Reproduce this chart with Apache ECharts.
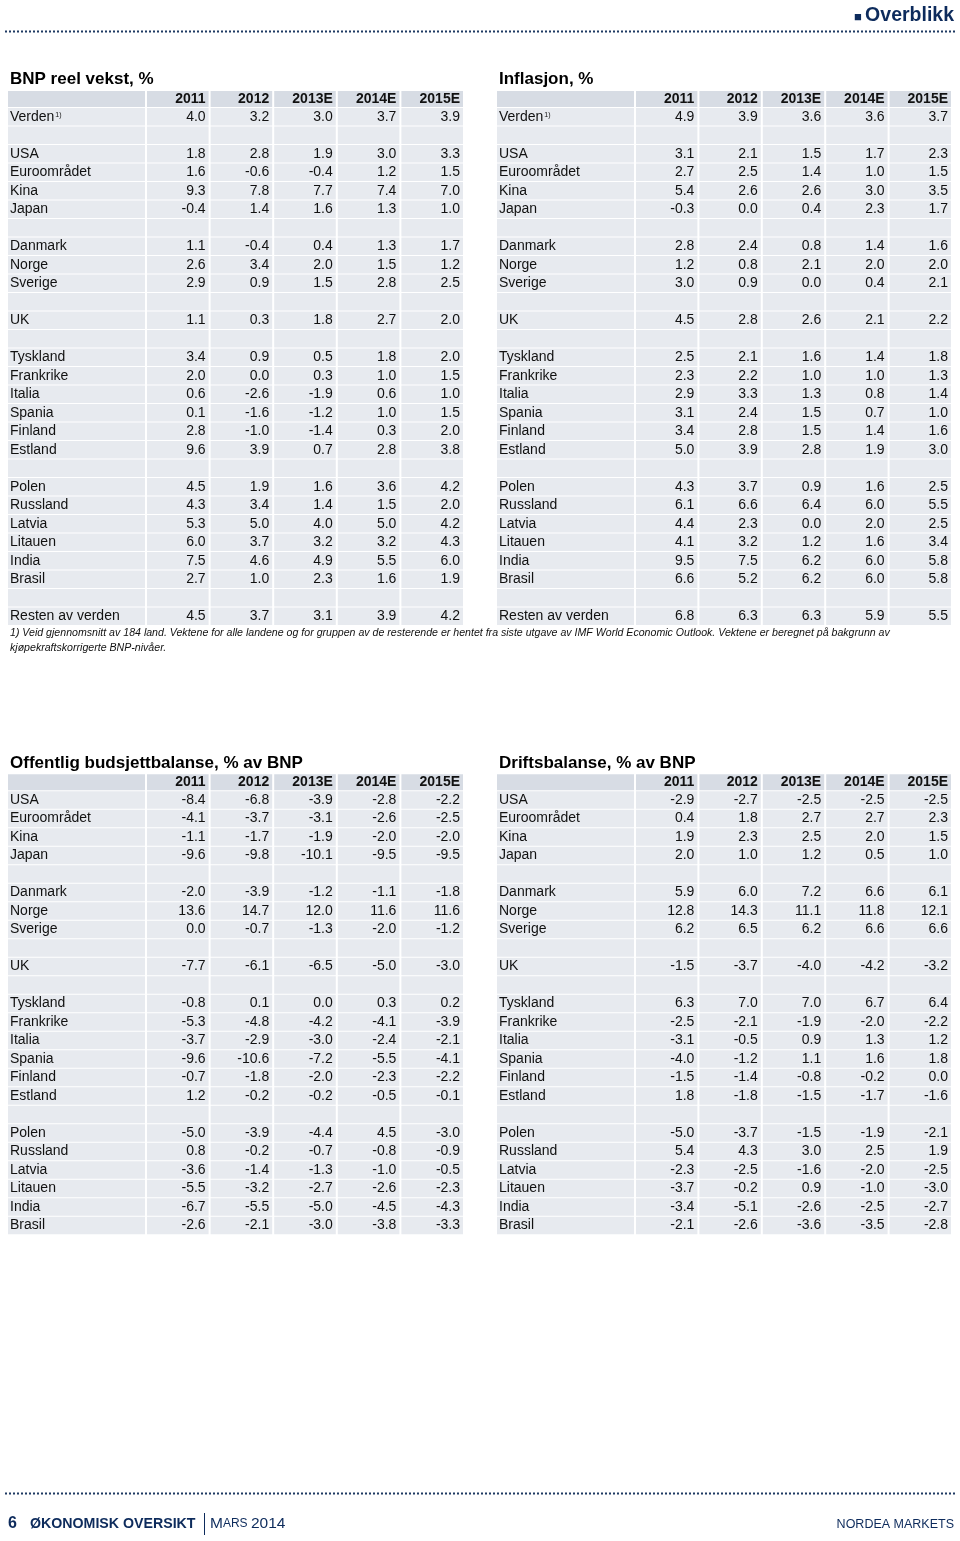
<!DOCTYPE html>
<html><head><meta charset="utf-8">
<script src="https://cdn.jsdelivr.net/npm/echarts/dist/echarts.min.js"></script>
<style>html,body{margin:0;padding:0;background:#fff}#c{width:960px;height:1541px}</style>
</head><body><div id="c"></div>
<script>
const years = ['2011', '2012', '2013E', '2014E', '2015E'];

const topRows = ['Verden', '', 'USA', 'Euroområdet', 'Kina', 'Japan', '', 'Danmark', 'Norge', 'Sverige', '', 'UK', '',
  'Tyskland', 'Frankrike', 'Italia', 'Spania', 'Finland', 'Estland', '', 'Polen', 'Russland', 'Latvia', 'Litauen',
  'India', 'Brasil', '', 'Resten av verden'];

const bottomRows = ['USA', 'Euroområdet', 'Kina', 'Japan', '', 'Danmark', 'Norge', 'Sverige', '', 'UK', '',
  'Tyskland', 'Frankrike', 'Italia', 'Spania', 'Finland', 'Estland', '', 'Polen', 'Russland', 'Latvia', 'Litauen',
  'India', 'Brasil'];

const bnpValues = [
  [4.0, 3.2, 3.0, 3.7, 3.9], null,
  [1.8, 2.8, 1.9, 3.0, 3.3], [1.6, -0.6, -0.4, 1.2, 1.5], [9.3, 7.8, 7.7, 7.4, 7.0], [-0.4, 1.4, 1.6, 1.3, 1.0], null,
  [1.1, -0.4, 0.4, 1.3, 1.7], [2.6, 3.4, 2.0, 1.5, 1.2], [2.9, 0.9, 1.5, 2.8, 2.5], null,
  [1.1, 0.3, 1.8, 2.7, 2.0], null,
  [3.4, 0.9, 0.5, 1.8, 2.0], [2.0, 0.0, 0.3, 1.0, 1.5], [0.6, -2.6, -1.9, 0.6, 1.0], [0.1, -1.6, -1.2, 1.0, 1.5],
  [2.8, -1.0, -1.4, 0.3, 2.0], [9.6, 3.9, 0.7, 2.8, 3.8], null,
  [4.5, 1.9, 1.6, 3.6, 4.2], [4.3, 3.4, 1.4, 1.5, 2.0], [5.3, 5.0, 4.0, 5.0, 4.2], [6.0, 3.7, 3.2, 3.2, 4.3],
  [7.5, 4.6, 4.9, 5.5, 6.0], [2.7, 1.0, 2.3, 1.6, 1.9], null,
  [4.5, 3.7, 3.1, 3.9, 4.2]
];

const inflValues = [
  [4.9, 3.9, 3.6, 3.6, 3.7], null,
  [3.1, 2.1, 1.5, 1.7, 2.3], [2.7, 2.5, 1.4, 1.0, 1.5], [5.4, 2.6, 2.6, 3.0, 3.5], [-0.3, 0.0, 0.4, 2.3, 1.7], null,
  [2.8, 2.4, 0.8, 1.4, 1.6], [1.2, 0.8, 2.1, 2.0, 2.0], [3.0, 0.9, 0.0, 0.4, 2.1], null,
  [4.5, 2.8, 2.6, 2.1, 2.2], null,
  [2.5, 2.1, 1.6, 1.4, 1.8], [2.3, 2.2, 1.0, 1.0, 1.3], [2.9, 3.3, 1.3, 0.8, 1.4], [3.1, 2.4, 1.5, 0.7, 1.0],
  [3.4, 2.8, 1.5, 1.4, 1.6], [5.0, 3.9, 2.8, 1.9, 3.0], null,
  [4.3, 3.7, 0.9, 1.6, 2.5], [6.1, 6.6, 6.4, 6.0, 5.5], [4.4, 2.3, 0.0, 2.0, 2.5], [4.1, 3.2, 1.2, 1.6, 3.4],
  [9.5, 7.5, 6.2, 6.0, 5.8], [6.6, 5.2, 6.2, 6.0, 5.8], null,
  [6.8, 6.3, 6.3, 5.9, 5.5]
];

const budgetValues = [
  [-8.4, -6.8, -3.9, -2.8, -2.2], [-4.1, -3.7, -3.1, -2.6, -2.5], [-1.1, -1.7, -1.9, -2.0, -2.0], [-9.6, -9.8, -10.1, -9.5, -9.5], null,
  [-2.0, -3.9, -1.2, -1.1, -1.8], [13.6, 14.7, 12.0, 11.6, 11.6], [0.0, -0.7, -1.3, -2.0, -1.2], null,
  [-7.7, -6.1, -6.5, -5.0, -3.0], null,
  [-0.8, 0.1, 0.0, 0.3, 0.2], [-5.3, -4.8, -4.2, -4.1, -3.9], [-3.7, -2.9, -3.0, -2.4, -2.1], [-9.6, -10.6, -7.2, -5.5, -4.1],
  [-0.7, -1.8, -2.0, -2.3, -2.2], [1.2, -0.2, -0.2, -0.5, -0.1], null,
  [-5.0, -3.9, -4.4, 4.5, -3.0], [0.8, -0.2, -0.7, -0.8, -0.9], [-3.6, -1.4, -1.3, -1.0, -0.5], [-5.5, -3.2, -2.7, -2.6, -2.3],
  [-6.7, -5.5, -5.0, -4.5, -4.3], [-2.6, -2.1, -3.0, -3.8, -3.3]
];

const currentValues = [
  [-2.9, -2.7, -2.5, -2.5, -2.5], [0.4, 1.8, 2.7, 2.7, 2.3], [1.9, 2.3, 2.5, 2.0, 1.5], [2.0, 1.0, 1.2, 0.5, 1.0], null,
  [5.9, 6.0, 7.2, 6.6, 6.1], [12.8, 14.3, 11.1, 11.8, 12.1], [6.2, 6.5, 6.2, 6.6, 6.6], null,
  [-1.5, -3.7, -4.0, -4.2, -3.2], null,
  [6.3, 7.0, 7.0, 6.7, 6.4], [-2.5, -2.1, -1.9, -2.0, -2.2], [-3.1, -0.5, 0.9, 1.3, 1.2], [-4.0, -1.2, 1.1, 1.6, 1.8],
  [-1.5, -1.4, -0.8, -0.2, 0.0], [1.8, -1.8, -1.5, -1.7, -1.6], null,
  [-5.0, -3.7, -1.5, -1.9, -2.1], [5.4, 4.3, 3.0, 2.5, 1.9], [-2.3, -2.5, -1.6, -2.0, -2.5], [-3.7, -0.2, 0.9, -1.0, -3.0],
  [-3.4, -5.1, -2.6, -2.5, -2.7], [-2.1, -2.6, -3.6, -3.5, -2.8]
];

const titles = ['BNP reel vekst, %', 'Inflasjon, %', 'Offentlig budsjettbalanse, % av BNP', 'Driftsbalanse, % av BNP'];
const footnoteLines = [
  '1) Veid gjennomsnitt av 184 land. Vektene for alle landene og for gruppen av de resterende er hentet fra siste utgave av IMF World Economic Outlook. Vektene er beregnet på bakgrunn av',
  'kjøpekraftskorrigerte BNP-nivåer.'
];

// ---------- layout ----------
const FONT = '"Liberation Sans", Arial, sans-serif';
const HDR_BG = '#d7dce4';
const CELL_BG = '#e7eaef';
const TXT = '#111111';
const NAVY = '#0d2b5c';
const ROW_H = 18.5;

const tables = [
  {rows: topRows, values: bnpValues, left: 8, top: 88.5, title: titles[0], titleTop: 71},
  {rows: topRows, values: inflValues, left: 497, top: 88.5, title: titles[1], titleTop: 71},
  {rows: bottomRows, values: budgetValues, left: 8, top: 771.75, title: titles[2], titleTop: 755},
  {rows: bottomRows, values: currentValues, left: 497, top: 771.75, title: titles[3], titleTop: 755}
];
const LBL_W = 139, VAL_W = 318;

const grid = [], xAxis = [], yAxis = [], series = [], title = [];

function makeRenderer(texts) {
  return function (params, api) {
    const c = api.value(0), r = api.value(1);
    const kind = api.value(2); // 0 label col, 1 value col
    const txt = texts[params.dataIndex];
    const pt = api.coord([c, r]);
    const sz = api.size([1, 1]);
    const w = sz[0], h = sz[1];
    const x0 = pt[0] - w / 2, y0 = pt[1] - h / 2;
    const isHdr = r === 0;
    const yTop = isHdr ? y0 + 2.5 : y0 + 1;
    const children = [{
      type: 'rect',
      shape: {x: x0, y: yTop, width: w - 2, height: y0 + h - yTop},
      style: {fill: isHdr ? HDR_BG : CELL_BG}
    }];
    if (txt) {
      const ty = isHdr ? pt[1] + 1.5 : pt[1] + 0.5;
      if (kind === 0) {
        const st = {x: x0 + 2, y: ty, textAlign: 'left', textVerticalAlign: 'middle', fill: TXT, font: '14px ' + FONT};
        if (txt === 'Verden') {
          st.text = '{n|Verden}{s|1)}';
          st.rich = {
            n: {fontSize: 14, fontFamily: FONT, fill: TXT},
            s: {fontSize: 7, fontFamily: FONT, fill: TXT, padding: [0, 0, 4, 1]}
          };
        } else {
          st.text = txt;
        }
        children.push({type: 'text', style: st});
      } else {
        children.push({type: 'text', style: {
          text: txt, x: x0 + w - 5, y: ty, textAlign: 'right', textVerticalAlign: 'middle',
          fill: TXT, font: (isHdr ? 'bold ' : '') + '14px ' + FONT
        }});
      }
    }
    return {type: 'group', children: children};
  };
}

tables.forEach((t, ti) => {
  const nRows = t.rows.length + 1;
  const height = nRows * ROW_H;
  const cats = ['hdr'].concat(t.rows.map((r, i) => 'r' + i));
  // label column grid
  const gL = grid.length;
  grid.push({left: t.left, top: t.top, width: LBL_W, height: height});
  xAxis.push({type: 'category', gridIndex: gL, data: ['label'], show: false});
  yAxis.push({type: 'category', gridIndex: gL, data: cats, inverse: true, show: false});
  const lblData = [[0, 0, 0]], lblTexts = [''];
  t.rows.forEach((r, i) => { lblData.push([0, i + 1, 0]); lblTexts.push(r); });
  series.push({type: 'custom', xAxisIndex: gL, yAxisIndex: gL, renderItem: makeRenderer(lblTexts),
    data: lblData, clip: false, silent: true});
  // value columns grid
  const gV = grid.length;
  grid.push({left: t.left + LBL_W, top: t.top, width: VAL_W - (ti % 2 ? 1 : 0), height: height});
  xAxis.push({type: 'category', gridIndex: gV, data: years, show: false});
  yAxis.push({type: 'category', gridIndex: gV, data: cats, inverse: true, show: false});
  const valData = [], valTexts = [];
  years.forEach((y, c) => { valData.push([c, 0, 1]); valTexts.push(y); });
  t.values.forEach((row, i) => {
    years.forEach((y, c) => { valData.push([c, i + 1, 1]); valTexts.push(row ? row[c].toFixed(1) : ''); });
  });
  series.push({type: 'custom', xAxisIndex: gV, yAxisIndex: gV, renderItem: makeRenderer(valTexts),
    data: valData, clip: false, silent: true});
  title.push({text: t.title, left: t.left + 2, top: t.titleTop, padding: 0,
    textStyle: {fontFamily: FONT, fontSize: 17, fontWeight: 'bold', color: '#000'}});
});

const graphic = [
  {type: 'text', right: 6, top: 6, style: {text: '{sq|■} {t|Overblikk}',
    rich: {sq: {fontSize: 13, fill: NAVY, fontFamily: FONT, padding: [3, 0, 0, 0]},
           t: {fontSize: 19.5, fontWeight: 'bold', fill: NAVY, fontFamily: FONT}}}},
  {type: 'line', shape: {x1: 5, y1: 31.5, x2: 955, y2: 31.5}, style: {stroke: '#1f3a63', lineWidth: 2, lineDash: [2, 2]}},
  {type: 'text', left: 10, top: 628, style: {text: footnoteLines[0], font: 'italic 10.6px ' + FONT, fill: '#111'}},
  {type: 'text', left: 10, top: 643, style: {text: footnoteLines[1], font: 'italic 10.6px ' + FONT, fill: '#111'}},
  {type: 'line', shape: {x1: 5, y1: 1493.5, x2: 955, y2: 1493.5}, style: {stroke: '#1f3a63', lineWidth: 2, lineDash: [2, 2]}},
  {type: 'text', left: 8, top: 1516, style: {text: '6', font: 'bold 16px ' + FONT, fill: NAVY}},
  {type: 'text', left: 30, top: 1517, style: {text: 'ØKONOMISK OVERSIKT', font: 'bold 14.2px ' + FONT, fill: NAVY}},
  {type: 'line', shape: {x1: 204.5, y1: 1513, x2: 204.5, y2: 1535}, style: {stroke: NAVY, lineWidth: 1}},
  {type: 'text', left: 210, top: 1516, style: {text: '{b|M}{s|ARS} {b|2014}',
    rich: {b: {fontSize: 15.5, fill: NAVY, fontFamily: FONT}, s: {fontSize: 12, fill: NAVY, fontFamily: FONT}}}},
  {type: 'text', right: 6, top: 1518, style: {text: 'NORDEA MARKETS', font: '12.5px ' + FONT, fill: NAVY}}
];

const chart = echarts.init(document.getElementById('c'), null, {renderer: 'canvas'});
chart.setOption({
  animation: false,
  backgroundColor: '#fff',
  title: title,
  grid: grid, xAxis: xAxis, yAxis: yAxis,
  series: series,
  graphic: graphic
});
</script></body></html>
